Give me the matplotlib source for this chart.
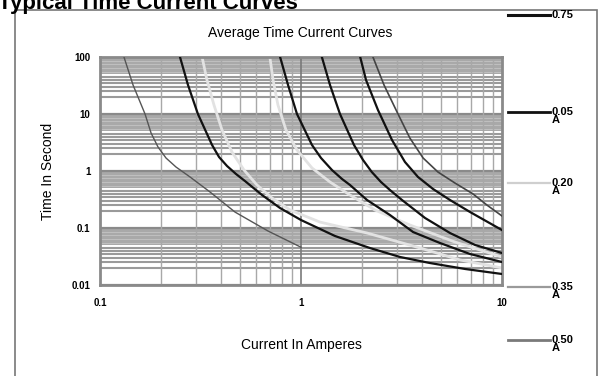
import matplotlib
matplotlib.use("Agg")
import matplotlib.pyplot as plt
from matplotlib.lines import Line2D
from matplotlib.patches import Rectangle

plt.rcParams['font.family'] = ['Liberation Sans', 'DejaVu Sans']

# curve data: (current in A, time in s)
curve_a_i = [0.1316, 0.146, 0.1675, 0.1795, 0.1943, 0.213, 0.2388, 0.2806,
             0.3527, 0.47, 0.685, 1.0]
curve_a_t = [100, 32.3, 10, 4.64, 2.64, 1.69, 1.175, 0.785, 0.428, 0.19, 0.0886, 0.046]

curve_b_i = [0.25, 0.274, 0.307, 0.361, 0.391, 0.4285, 0.475, 0.526, 0.64, 0.787,
             1.0, 1.476, 2.2, 3.11, 4.38, 6.55, 10]
curve_b_t = [100, 32.3, 10, 2.86, 1.76, 1.224, 0.886, 0.668, 0.379, 0.224,
             0.138, 0.0724, 0.0446, 0.031, 0.0243, 0.0191, 0.0156]

curve_c_i = [0.787, 0.862, 0.955, 1.134, 1.258, 1.426, 1.6, 1.753, 2.13, 2.77,
             3.61, 4.91, 6.93, 10]
curve_c_t = [100, 32.3, 10, 2.86, 1.69, 1.04, 0.724, 0.568, 0.31, 0.169,
             0.085, 0.0546, 0.035, 0.0253]

curve_d_i = [1.27, 1.394, 1.563, 1.835, 2.035, 2.25, 2.5, 2.77, 3.18, 4.14,
             5.51, 7.34, 10]
curve_d_t = [100, 32.3, 10, 2.86, 1.56, 0.96, 0.641, 0.464, 0.31, 0.15,
             0.0817, 0.0504, 0.0364]

curve_e_i = [1.97, 2.106, 2.415, 2.836, 3.29, 3.82, 4.54, 5.51, 6.93, 10]
curve_e_t = [100, 39.5, 11.75, 3.5, 1.44, 0.785, 0.483, 0.31, 0.191, 0.092]

curve_f_i = [2.28, 2.588, 3.038, 3.48, 4.05, 4.80, 5.83, 7.18, 8.41, 10]
curve_f_t = [100, 32.3, 10, 3.79, 1.69, 0.96, 0.616, 0.395, 0.253, 0.1625]

curve_g1_i = [0.322, 0.3405, 0.369, 0.4046, 0.4535, 0.5205, 0.604, 0.7175,
              0.882, 1.243, 2.13, 3.91, 6.18, 10]
curve_g1_t = [100, 39.5, 14.4, 5.24, 2.15, 1.04, 0.568, 0.336,
              0.207, 0.127, 0.0817, 0.0446, 0.0275, 0.0199]

curve_g2_i = [0.70, 0.726, 0.768, 0.842, 0.955, 1.134, 1.394, 1.753, 2.333,
              3.48, 5.83, 10]
curve_g2_t = [100, 39.5, 14.4, 5.24, 2.34, 1.13, 0.641, 0.379, 0.207,
              0.113, 0.0568, 0.031]

legend_labels = ['0.75', '0.05\nA', '0.20\nA', '0.35\nA', '0.50\nA']
legend_colors = ['#111111', '#111111', '#cfcfcf', '#9a9a9a', '#7a7a7a']
legend_widths = [2.2, 2.0, 1.6, 1.6, 2.0]

y_ticks = [0.01, 0.1, 1, 10, 100]
y_ticklabels = ['0.01', '0.1', '1', '10', '100']
x_ticks = [0.1, 1, 10]
x_ticklabels = ['0.1', '1', '10']

fig = plt.figure(figsize=(6.06, 3.76), dpi=100)
ax = fig.add_axes([100 / 606, 1 - 285 / 376, 402 / 606, 228 / 376])
ax.set_xscale('log')
ax.set_yscale('log')
ax.set_xlim(0.1, 10)
ax.set_ylim(0.01, 100)

# horizontal grid: dense grey band in the upper half of every decade
for dec in [0.01, 0.1, 1, 10]:
    ax.axhspan(5 * dec, 10 * dec, color='#a9a9a9', lw=0, zorder=0)
    for k in [5.5, 6.5, 7.5, 8.5]:
        ax.axhline(k * dec, color='#c4c4c4', lw=0.6, zorder=0.5)
    for k in [2, 2.5, 3, 3.5, 4, 4.5]:
        ax.axhline(k * dec, color='#9a9a9a', lw=1.5, zorder=0.5)
    ax.axhline(dec, color='#8a8a8a', lw=1.6, zorder=0.5)

# vertical grid
for dec in [0.1, 1]:
    for k in range(2, 10):
        ax.axvline(k * dec, color='#a8a8a8', lw=1.0, zorder=0.6)
ax.axvline(1, color='#7a7a7a', lw=1.2, zorder=0.6)

# curves
ax.plot(curve_g1_i, curve_g1_t, color='#e2e2e2', lw=2.0, zorder=2)
ax.plot(curve_g2_i, curve_g2_t, color='#e2e2e2', lw=2.0, zorder=2)
ax.plot(curve_a_i, curve_a_t, color='#555555', lw=1.0, zorder=3)
ax.plot(curve_b_i, curve_b_t, color='#111111', lw=1.6, zorder=3)
ax.plot(curve_c_i, curve_c_t, color='#111111', lw=1.6, zorder=3)
ax.plot(curve_d_i, curve_d_t, color='#111111', lw=1.6, zorder=3)
ax.plot(curve_e_i, curve_e_t, color='#111111', lw=1.6, zorder=3)
ax.plot(curve_f_i, curve_f_t, color='#444444', lw=1.2, zorder=3)

ax.set_xticks(x_ticks)
ax.set_xticklabels(x_ticklabels)
ax.set_yticks(y_ticks)
ax.set_yticklabels(y_ticklabels)
ax.minorticks_off()
ax.tick_params(length=0, labelsize=7)
ax.tick_params(axis='x', pad=9)
ax.tick_params(axis='y', pad=7)
for lab in ax.get_xticklabels() + ax.get_yticklabels():
    lab.set_fontweight('bold')
for s in ax.spines.values():
    s.set_color('#8a8a8a')
    s.set_linewidth(2)

ax.set_xlabel('Current In Amperes', fontsize=10, labelpad=22)
ax.set_ylabel('Time In Second', fontsize=10, labelpad=12)
fig.text(300 / 606, 1 - 33 / 376, 'Average Time Current Curves', fontsize=10,
         ha='center', va='center')

# header, cut off at the top edge as in the scan
fig.text(-2 / 606, 1 - 3 / 376, 'Typical Time Current Curves', fontsize=16,
         fontweight='bold', ha='left', va='center')

# outer frame
fig.patches.append(Rectangle((15 / 606, -0.05), 582 / 606, 1 - 10 / 376 + 0.05,
                             transform=fig.transFigure, fill=False,
                             edgecolor='#777777', lw=1.2))

# hand-drawn key on the right
key_y = [15, 112, 183, 287, 340]
for lab, col, w, yy in zip(legend_labels, legend_colors, legend_widths, key_y):
    yf = 1 - yy / 376
    fig.lines.append(Line2D([508 / 606, 550 / 606], [yf, yf],
                            transform=fig.transFigure, color=col, lw=w))
    fig.text(552 / 606, yf + 5 / 376, lab, fontsize=8, fontweight='bold',
             ha='left', va='top', linespacing=0.8)

fig.savefig('out.png', dpi=100)
